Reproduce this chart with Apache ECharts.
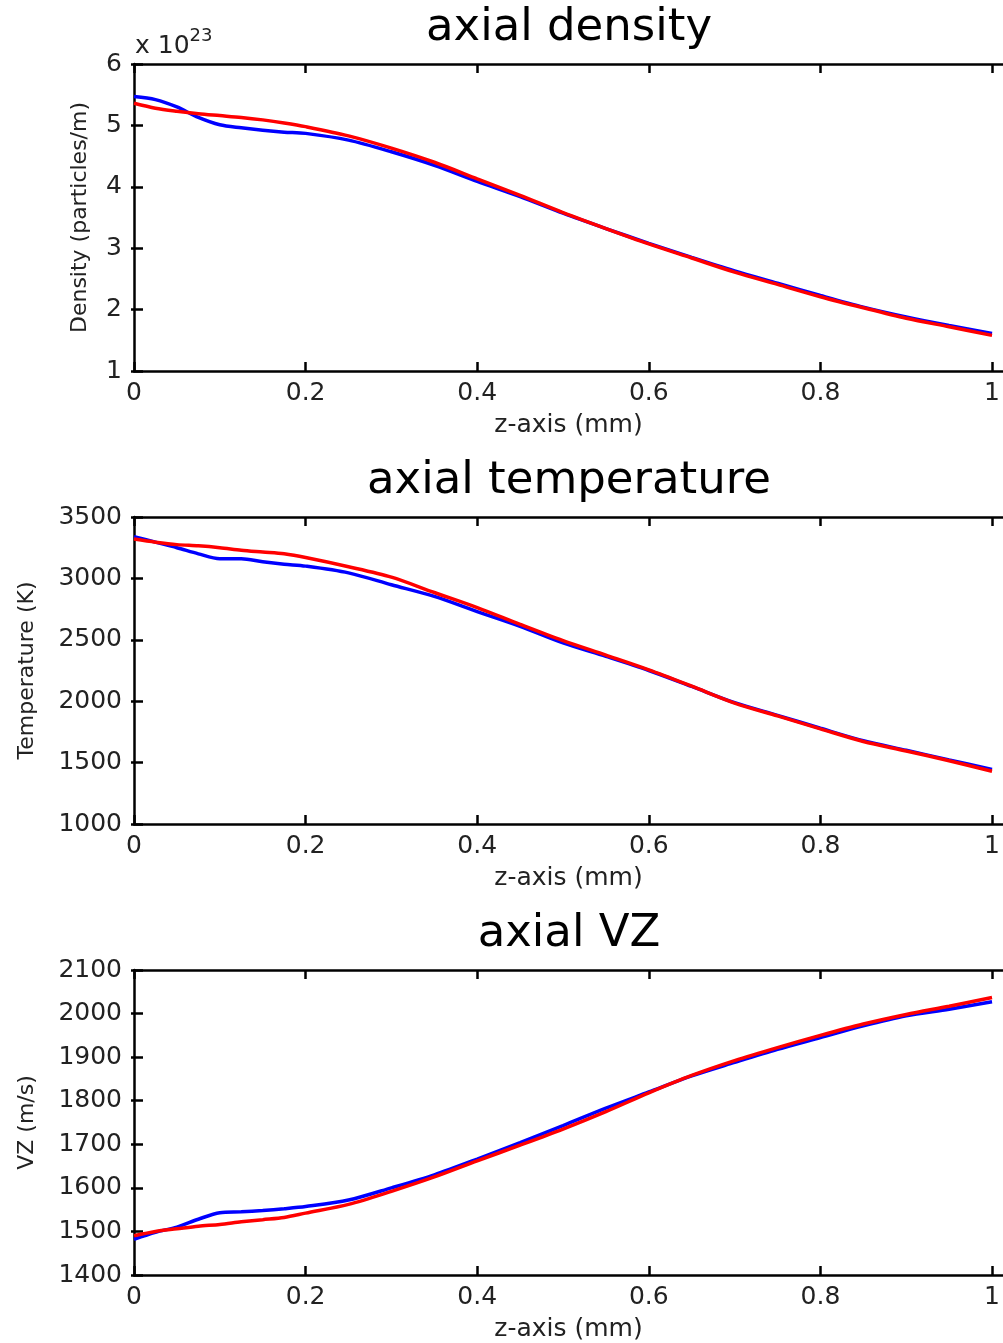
<!DOCTYPE html>
<html>
<head>
<meta charset="utf-8">
<script src="https://cdn.jsdelivr.net/npm/echarts@6/dist/echarts.min.js"></script>
<style>html,body{margin:0;padding:0;background:#fff;}#c{width:1003px;height:1343px;}</style>
</head>
<body>
<div id="c"></div>
<script>
// z-axis positions (mm)
const z = [0, 0.025, 0.05, 0.075, 0.1, 0.125, 0.15, 0.175, 0.2, 0.25, 0.3, 0.35, 0.4, 0.45, 0.5, 0.55, 0.6, 0.65, 0.7, 0.75, 0.8, 0.85, 0.9, 0.95, 1.0];
// axial density (x 1e23 particles/m)
const densityBlue = [5.47, 5.42, 5.30, 5.13, 5.01, 4.96, 4.92, 4.89, 4.87, 4.76, 4.57, 4.35, 4.09, 3.84, 3.57, 3.32, 3.08, 2.85, 2.63, 2.43, 2.23, 2.04, 1.88, 1.74, 1.61];
const densityRed  = [5.36, 5.28, 5.23, 5.19, 5.16, 5.13, 5.09, 5.04, 4.98, 4.83, 4.63, 4.40, 4.13, 3.86, 3.58, 3.32, 3.07, 2.84, 2.61, 2.41, 2.21, 2.03, 1.86, 1.72, 1.58];
// axial temperature (K)
const tempBlue = [3340, 3295, 3250, 3200, 3160, 3160, 3135, 3115, 3100, 3045, 2948, 2853, 2730, 2610, 2475, 2365, 2250, 2120, 1988, 1885, 1780, 1678, 1600, 1522, 1445];
const tempRed  = [3320, 3295, 3275, 3265, 3250, 3230, 3215, 3200, 3170, 3095, 3010, 2885, 2762, 2625, 2493, 2375, 2255, 2122, 1985, 1880, 1775, 1672, 1595, 1515, 1430];
// axial VZ (m/s)
const vzBlue = [1482, 1498, 1510, 1528, 1543, 1545, 1548, 1552, 1557, 1572, 1600, 1630, 1666, 1704, 1743, 1783, 1820, 1857, 1888, 1918, 1945, 1972, 1995, 2010, 2027];
const vzRed  = [1490, 1500, 1506, 1512, 1516, 1522, 1527, 1532, 1542, 1562, 1592, 1625, 1662, 1698, 1735, 1775, 1818, 1858, 1892, 1922, 1950, 1976, 1998, 2017, 2037];
// tick labels
const xTicks = [0, 0.2, 0.4, 0.6, 0.8, 1];
const densityTicks = [1, 2, 3, 4, 5, 6];
const tempTicks = [1000, 1500, 2000, 2500, 3000, 3500];
const vzTicks = [1400, 1500, 1600, 1700, 1800, 1900, 2000, 2100];
const titles = ['axial density', 'axial temperature', 'axial VZ'];
const yNames = ['Density (particles/m)', 'Temperature (K)', 'VZ (m/s)'];
const xName = 'z-axis (mm)';

const FONT = 'DejaVu Sans';
const tickFont = {fontFamily: FONT, fontSize: 25, color: '#222'};
const lineStyle = {color: '#000', width: 2.5};
const X_MAX = 1.0128; // plot box extends past the page edge

const grids = [
  {left: 134, right: 0, top: 64, height: 307},
  {left: 134, right: 0, top: 517, height: 307},
  {left: 134, right: 0, top: 970, height: 306}
];
const yCfg = [
  {min: 1, max: 6, interval: 1, ticks: densityTicks, gap: 43},
  {min: 1000, max: 3500, interval: 500, ticks: tempTicks, gap: 96},
  {min: 1400, max: 2100, interval: 100, ticks: vzTicks, gap: 96}
];
const seriesData = [[densityBlue, densityRed], [tempBlue, tempRed], [vzBlue, vzRed]];

const xAxes = [], yAxes = [], series = [];
grids.forEach((g, i) => {
  xAxes.push({
    gridIndex: i, type: 'value', min: 0, max: X_MAX, position: 'bottom',
    name: xName, nameLocation: 'middle', nameGap: 42,
    nameTextStyle: {fontFamily: FONT, fontSize: 25, color: '#222'},
    axisLine: {show: true, onZero: false, lineStyle: lineStyle},
    axisTick: {show: true, inside: true, length: 9, customValues: xTicks, lineStyle: lineStyle},
    axisLabel: Object.assign({margin: 10, customValues: xTicks, formatter: v => String(v)}, tickFont),
    splitLine: {show: false}
  });
  xAxes.push({
    gridIndex: i, type: 'value', min: 0, max: X_MAX, position: 'top',
    axisLine: {show: true, onZero: false, lineStyle: lineStyle},
    axisTick: {show: true, inside: true, length: 9, customValues: xTicks, lineStyle: lineStyle},
    axisLabel: {show: false}, splitLine: {show: false}
  });
  const yc = yCfg[i];
  yAxes.push({
    gridIndex: i, type: 'value', min: yc.min, max: yc.max, interval: yc.interval, position: 'left',
    name: yNames[i], nameLocation: 'middle', nameRotate: 90, nameGap: yc.gap,
    nameTextStyle: {fontFamily: FONT, fontSize: 22, color: '#222'},
    axisLine: {show: true, onZero: false, lineStyle: lineStyle},
    axisTick: {show: true, inside: true, length: 9, customValues: yc.ticks, lineStyle: lineStyle},
    axisLabel: Object.assign({margin: 12, customValues: yc.ticks, formatter: v => String(v)}, tickFont),
    splitLine: {show: false}
  });
  yAxes.push({
    gridIndex: i, type: 'value', min: yc.min, max: yc.max, interval: yc.interval, position: 'right',
    axisLine: {show: false},
    axisTick: {show: true, inside: true, length: 3, customValues: yc.ticks, lineStyle: lineStyle},
    axisLabel: {show: false}, splitLine: {show: false}
  });
  const colors = ['#0000ff', '#ff0000'];
  seriesData[i].forEach((arr, k) => {
    series.push({
      type: 'line', xAxisIndex: i * 2, yAxisIndex: i * 2,
      data: z.map((zz, j) => [zz, arr[j]]),
      showSymbol: false, smooth: 0.3, animation: false,
      lineStyle: {color: colors[k], width: 3.5},
      itemStyle: {color: colors[k]}
    });
  });
});

const titleCenters = [27, 480, 933];
const titleArr = titles.map((t, i) => ({
  text: t, left: 564, top: titleCenters[i] - 26, textAlign: 'center',
  textStyle: {fontFamily: FONT, fontSize: 45, fontWeight: 'normal', color: '#000'}
}));
titleArr.push({
  text: '{a|x 10}{b|23}', left: 130, top: 22,
  textStyle: {fontWeight: 'normal', rich: {
    a: {fontFamily: FONT, fontSize: 25, fontWeight: 'normal', color: '#222', verticalAlign: 'bottom', lineHeight: 32},
    b: {fontFamily: FONT, fontSize: 18, fontWeight: 'normal', color: '#222', verticalAlign: 'top', lineHeight: 32, padding: [0, 0, 12, 0]}
  }}
});

const chart = echarts.init(document.getElementById('c'), null, {renderer: 'canvas'});
chart.setOption({
  backgroundColor: '#fff',
  animation: false,
  title: titleArr,
  grid: grids,
  xAxis: xAxes,
  yAxis: yAxes,
  series: series
});
</script>
</body>
</html>
